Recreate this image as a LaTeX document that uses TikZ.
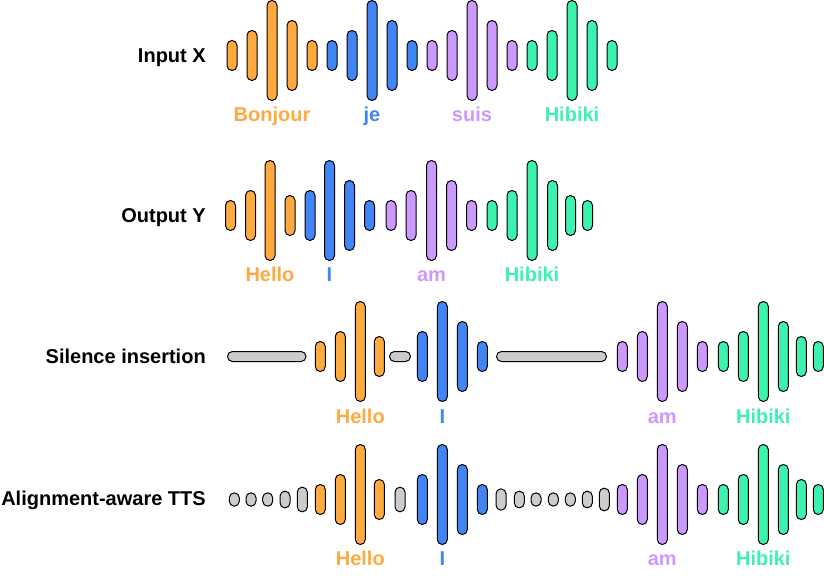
\documentclass[tikz,border=0pt]{standalone}
\usepackage{fontspec}
\setmainfont{Liberation Sans}
\usepackage{tikz}

\definecolor{wOrange}{RGB}{255,170,64}
\definecolor{wBlue}{RGB}{66,133,244}
\definecolor{wPurple}{RGB}{204,153,255}
\definecolor{wGreen}{RGB}{60,242,174}
\definecolor{wGray}{RGB}{204,204,204}

\begin{document}
\begin{tikzpicture}[x=0.75pt,y=0.75pt,yscale=-1,xscale=1,
  wave/.style={draw=black, line width=0.75pt, rounded corners=3.7pt},
  rowlabel/.style={font=\fontsize{15}{18}\selectfont\bfseries, anchor=base east, inner sep=0pt},
  word/.style={font=\fontsize{15}{18}\selectfont\bfseries, anchor=base, inner sep=0pt}]
\useasboundingbox (0,0) rectangle (824,575);

%Row: Input X
\def\cy{55.5}
\foreach \x/\h/\c in {232/30/wOrange,252/50/wOrange,272/100/wOrange,292/70/wOrange,312/30/wOrange,
  332/30/wBlue,352/50/wBlue,372/100/wBlue,392/70/wBlue,412/30/wBlue,
  432/30/wPurple,452/50/wPurple,472/100/wPurple,492/70/wPurple,512/30/wPurple,
  532/30/wGreen,552/50/wGreen,572/100/wGreen,592/70/wGreen,612/30/wGreen}{
  \pgfmathsetmacro\sh{\h>99 ? 5 : 0}
  \draw[wave, fill=\c] ({\x-5},{\cy-\h/2-\sh}) rectangle ({\x+5},{\cy+\h/2-\sh});
}
\node[rowlabel] (inX) at (206,62.5) {Input X};
\node[word, text=wOrange] (bonjour) at (272,121) {Bonjour};
\node[word, text=wBlue] (je) at (372,121) {je};
\node[word, text=wPurple] (suis) at (472,121) {suis};
\node[word, text=wGreen] (hibikiX) at (572,121) {Hibiki};

%Row: Output Y
\def\cy{215.5}
\foreach \x/\h/\c in {230.5/30/wOrange,250.5/50/wOrange,270/100/wOrange,290/40/wOrange,
  310/50/wBlue,329.5/100/wBlue,349.5/70/wBlue,369.5/30/wBlue,
  391/30/wPurple,411/50/wPurple,431.5/100/wPurple,451.5/70/wPurple,471.5/30/wPurple,
  492/30/wGreen,512/50/wGreen,532/100/wGreen,552.5/70/wGreen,570.5/40/wGreen,587.5/30/wGreen}{
  \pgfmathsetmacro\sh{\h>99 ? 5 : 0}
  \draw[wave, fill=\c] ({\x-5},{\cy-\h/2-\sh}) rectangle ({\x+5},{\cy+\h/2-\sh});
}
\node[rowlabel] (outY) at (206,222.5) {Output Y};
\node[word, text=wOrange] (helloY) at (270,281.5) {Hello};
\node[word, text=wBlue] (iY) at (329.5,281.5) {I};
\node[word, text=wPurple] (amY) at (431.5,281.5) {am};
\node[word, text=wGreen] (hibikiY) at (532,281.5) {Hibiki};

%Row: Silence insertion
\def\cy{356.5}
\draw[wave, fill=wGray] (227.5,351.5) rectangle (306,361.5);
\draw[wave, fill=wGray] (389.5,351.5) rectangle (410.5,361.5);
\draw[wave, fill=wGray] (496.5,351.5) rectangle (606.5,361.5);
\foreach \x/\h/\c in {320.3/30/wOrange,340.3/50/wOrange,360.3/100/wOrange,379.3/40/wOrange,
  422.3/50/wBlue,442.3/100/wBlue,462.3/70/wBlue,482.3/30/wBlue,
  622.3/30/wPurple,642.3/50/wPurple,662.3/100/wPurple,682.3/70/wPurple,702.3/30/wPurple,
  723.3/30/wGreen,743.3/50/wGreen,763.3/100/wGreen,783.3/70/wGreen,801.3/40/wGreen,818.3/30/wGreen}{
  \pgfmathsetmacro\sh{\h>99 ? 5 : 0}
  \draw[wave, fill=\c] ({\x-5},{\cy-\h/2-\sh}) rectangle ({\x+5},{\cy+\h/2-\sh});
}
\node[rowlabel] (silence) at (206,363.5) {Silence insertion};
\node[word, text=wOrange] (helloS) at (360.3,423) {Hello};
\node[word, text=wBlue] (iS) at (442.3,423) {I};
\node[word, text=wPurple] (amS) at (662.3,423) {am};
\node[word, text=wGreen] (hibikiS) at (763.3,423) {Hibiki};

%Row: Alignment-aware TTS
\def\cy{499.5}
\foreach \x/\h/\c in {234.3/13.3/wGray,251/13.3/wGray,267.7/13.3/wGray,285/16.7/wGray,302.3/24.7/wGray,
  320.3/30/wOrange,340.3/50/wOrange,360.3/100/wOrange,379.3/40/wOrange,
  400/24.7/wGray,
  422.3/50/wBlue,442.3/100/wBlue,462.3/70/wBlue,482.3/30/wBlue,
  501/21.3/wGray,519.3/16.7/wGray,536/13.3/wGray,553.3/13.3/wGray,570.3/13.3/wGray,587.3/16.7/wGray,604.3/22.7/wGray,
  622.3/30/wPurple,642.3/50/wPurple,662.3/100/wPurple,682.3/70/wPurple,702.3/30/wPurple,
  723.3/30/wGreen,743.3/50/wGreen,763.3/100/wGreen,783.3/70/wGreen,801.3/40/wGreen,818.3/30/wGreen}{
  \pgfmathsetmacro\sh{\h>99 ? 5 : 0}
  \draw[wave, fill=\c] ({\x-5},{\cy-\h/2-\sh}) rectangle ({\x+5},{\cy+\h/2-\sh});
}
\node[rowlabel] (aligned) at (206,505) {Alignment-aware TTS};
\node[word, text=wOrange] (helloA) at (360.3,565.5) {Hello};
\node[word, text=wBlue] (iA) at (442.3,565.5) {I};
\node[word, text=wPurple] (amA) at (662.3,565.5) {am};
\node[word, text=wGreen] (hibikiA) at (763.3,565.5) {Hibiki};

\end{tikzpicture}
\end{document}
